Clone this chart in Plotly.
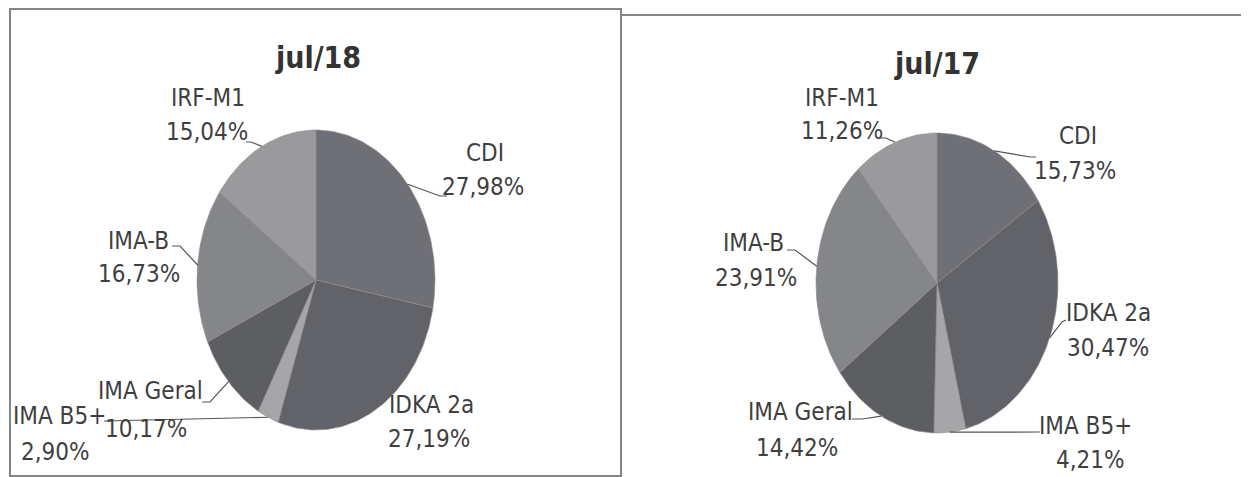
import numpy as np
import plotly.graph_objects as go

# ---------------- data ----------------
categories = ["CDI", "IDKA 2a", "IMA B5+", "IMA Geral", "IMA-B", "IRF-M1"]
jul18 = [27.98, 27.19, 2.90, 10.17, 16.73, 15.04]
jul17 = [15.73, 30.47, 4.21, 14.42, 23.91, 11.26]
titles = ["jul/18", "jul/17"]

# ---------------- styles / layout ----------------
slice_colors = ["#6f7075", "#626368", "#a6a6a9", "#5d5e62", "#85868a", "#9a9a9d"]
FONT = "DejaVu Sans Condensed, sans-serif"
TXT = "#3f3f3f"
W, H = 1249, 477
OFF = 8  # page body margin: shift the axes so data units equal screen pixels

panels = [
    dict(values=jul18, title=titles[0], cx=316, cy=280, rx=119, ry=150,
         title_pos=(318, 57), box=(10, 9, 621, 476),
         labels={
             "CDI": dict(name=(485, 153), val=(483, 187), lead=[(447, 196), (440, 196)]),
             "IDKA 2a": dict(name=(431, 405), val=(429, 439), lead=None),
             "IMA B5+": dict(name=(59, 416), val=(55, 452), lead=[(104, 421)]),
             "IMA Geral": dict(name=(150, 391), val=(146, 429), lead=[(202, 402), (210, 402)]),
             "IMA-B": dict(name=(138, 241), val=(139, 274), lead=[(172, 246), (180, 246)]),
             "IRF-M1": dict(name=(208, 98), val=(207, 132), lead=[(246, 142), (251, 142)]),
         }),
    dict(values=jul17, title=titles[1], cx=937, cy=283, rx=121, ry=150,
         title_pos=(937, 63), box=(621, 15, 1245, 482),
         labels={
             "CDI": dict(name=(1078, 136), val=(1075, 171), lead=[(1036, 157), (1030, 157)]),
             "IDKA 2a": dict(name=(1108, 313), val=(1108, 348), lead=[(1066, 320), (1062, 322)]),
             "IMA B5+": dict(name=(1085, 426), val=(1090, 460), lead=[(1040, 432)]),
             "IMA Geral": dict(name=(800, 412), val=(797, 448), lead=[(852, 419), (862, 419)]),
             "IMA-B": dict(name=(753, 243), val=(756, 278), lead=[(787, 250), (795, 250)]),
             "IRF-M1": dict(name=(842, 98), val=(842, 131), lead=[(880, 138), (886, 138)]),
         }),
]


def ellipse_pt(cx, cy, rx, ry, frac):
    th = 2 * np.pi * frac
    return cx + rx * np.sin(th), cy - ry * np.cos(th)


fig = go.Figure()
annotations = []
shapes = []

for p in panels:
    vals = np.array(p["values"], dtype=float)
    fr = vals / vals.sum()
    starts = np.concatenate([[0], np.cumsum(fr)[:-1]])
    cx, cy, rx, ry = p["cx"], p["cy"], p["rx"], p["ry"]
    for i, cat in enumerate(categories):
        f0, f1 = starts[i], starts[i] + fr[i]
        n = max(8, int(300 * fr[i]))
        t = np.linspace(f0, f1, n)
        ex, ey = ellipse_pt(cx, cy, rx, ry, t)
        xs = np.concatenate([[cx], ex, [cx]])
        ys = np.concatenate([[cy], ey, [cy]])
        fig.add_trace(go.Scatter(
            x=xs, y=ys, mode="lines", fill="toself",
            fillcolor=slice_colors[i],
            line=dict(color="#8c8c90", width=0.6),
            name=cat, showlegend=False,
            hoverinfo="text",
            text=f"{cat}: {vals[i]:.2f}%".replace(".", ","),
        ))
        lab = p["labels"][cat]
        for key, txt in (("name", cat), ("val", f"{vals[i]:.2f}%".replace(".", ","))):
            annotations.append(dict(
                x=lab[key][0], y=lab[key][1], xref="x", yref="y",
                text=txt, showarrow=False, align="center",
                font=dict(family=FONT, size=24, color=TXT),
                xanchor="center", yanchor="middle",
            ))
        if lab["lead"] is not None:
            mx, my = ellipse_pt(cx, cy, rx, ry, f0 + fr[i] / 2)
            pts = list(lab["lead"]) + [(mx, my)]
            fig.add_trace(go.Scatter(
                x=[q[0] for q in pts], y=[q[1] for q in pts],
                mode="lines", line=dict(color="#555555", width=1.2),
                showlegend=False, hoverinfo="skip",
            ))
    annotations.append(dict(
        x=p["title_pos"][0], y=p["title_pos"][1], xref="x", yref="y",
        text=f"<b>{p['title']}</b>", showarrow=False,
        font=dict(family=FONT, size=30, color="#333333"),
        xanchor="center", yanchor="middle",
    ))
    x0, y0, x1, y1 = p["box"]
    shapes.append(dict(type="rect", xref="x", yref="y", x0=x0, y0=y0, x1=x1, y1=y1,
                       line=dict(color="#858585", width=2), fillcolor="rgba(0,0,0,0)",
                       layer="below"))

fig.update_layout(
    width=W, height=H, autosize=False,
    margin=dict(l=0, r=0, t=0, b=0),
    paper_bgcolor="white", plot_bgcolor="white",
    xaxis=dict(range=[OFF, W + OFF], visible=False, fixedrange=True),
    yaxis=dict(range=[H + OFF, OFF], visible=False, fixedrange=True),
    annotations=annotations, shapes=shapes,
    showlegend=False,
)

fig.write_html("out.html")
